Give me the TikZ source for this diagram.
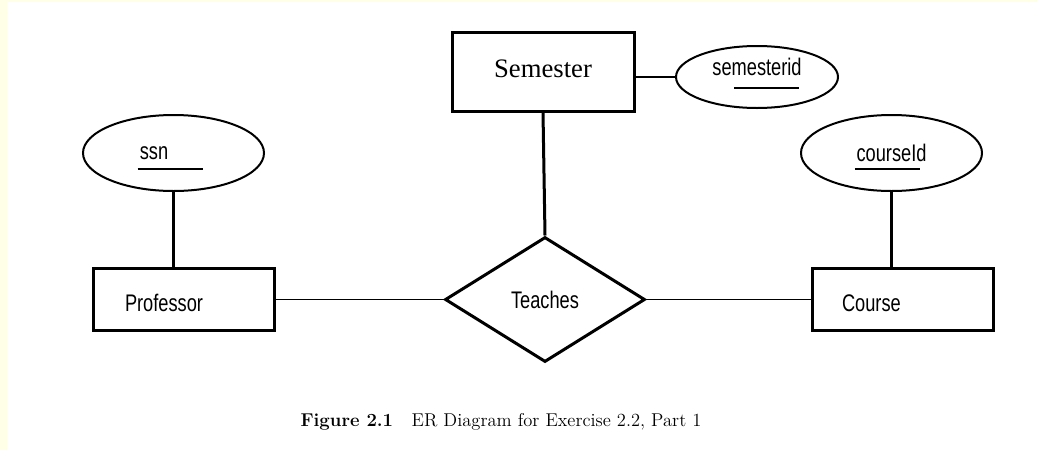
\documentclass[tikz,border=0pt]{standalone}
\usepackage{fontspec}
\usetikzlibrary{shapes.geometric}
\newfontfamily\erSans[FakeStretch=0.76]{Liberation Sans}
\newfontfamily\erSerif{Liberation Serif}
\definecolor{pageyellow}{RGB}{255,255,232}
\newcommand{\erlift}[2]{\raisebox{#1}[\height][\depth]{#2}}
\begin{document}
\begin{tikzpicture}[x=0.75pt,y=-0.75pt,
  entity/.style={draw, line width=2.25pt, rectangle, inner sep=0pt},
  attrib/.style={draw, line width=1.5pt, ellipse, inner sep=0pt, font=\erSans\fontsize{18}{20}\selectfont},
  relship/.style={draw, line width=2.25pt, diamond, inner sep=0pt, font=\erSans\fontsize{18}{20}\selectfont},
  thinlink/.style={line width=1.1pt},
  thicklink/.style={line width=2.25pt},
  keyline/.style={line width=1.1pt}]
\fill[pageyellow] (0,0) rectangle (1037,450);
\fill[white] (7,2) rectangle (1037,450);
\useasboundingbox (0,0) rectangle (1037,450);

% entities
\node[entity, minimum width=136.5pt, minimum height=59.25pt, font=\erSerif\fontsize{20}{22}\selectfont] (sem) at (543,71.5) {\erlift{2pt}{Semester}};
\node[entity, minimum height=46.5pt, text width=87.75pt, inner xsep=24pt, align=left, font=\erSans\fontsize{18}{20}\selectfont] (prof) at (183.5,299) {\erlift{-3pt}{Professor}};
\node[entity, minimum height=46.5pt, text width=90.75pt, inner xsep=22.5pt, align=left, font=\erSans\fontsize{18}{20}\selectfont] (course) at (902.5,299) {\erlift{-3pt}{Course}};

% relationship
\node[relship, minimum width=150pt, minimum height=93.75pt] (teach) at (545,299.5) {Teaches};

% attributes
\node[attrib, minimum width=121.5pt, minimum height=46.5pt] (semid) at (757,77) {\erlift{7.5pt}{semesterid}};
\node[attrib, minimum width=135.75pt, minimum height=57pt] (ssn) at (173.5,153) {\hspace*{-29.25pt}ssn};
\node[attrib, minimum width=135.75pt, minimum height=57pt] (cid) at (891.5,153) {courseId};

% key underlines
\draw[keyline] ([xshift=-17.25pt,yshift=-8.25pt]semid.center) -- ([xshift=31.5pt,yshift=-8.25pt]semid.center);
\draw[keyline] ([xshift=-27pt,yshift=-12pt]ssn.center) -- ([xshift=21.75pt,yshift=-12pt]ssn.center);
\draw[keyline] ([xshift=-27.4pt,yshift=-12pt]cid.center) -- ([xshift=21.4pt,yshift=-12pt]cid.center);

% connectors
\draw[thinlink] (sem.east |- semid.west) -- (semid.west);
\draw[thicklink] (sem.south) -- (teach.north);
\draw[thicklink] (ssn.south) -- (prof.north -| ssn.south);
\draw[thicklink] (cid.south) -- (course.north -| cid.south);
\draw[thinlink] (prof.east |- teach.west) -- (teach.west);
\draw[thinlink] (teach.east) -- (course.west |- teach.east);

% caption
\node[font=\fontsize{13.9}{16}\selectfont] (cap) at (501,422) {\textbf{Figure 2.1}\quad ER Diagram for Exercise 2.2, Part 1};
\end{tikzpicture}
\end{document}
